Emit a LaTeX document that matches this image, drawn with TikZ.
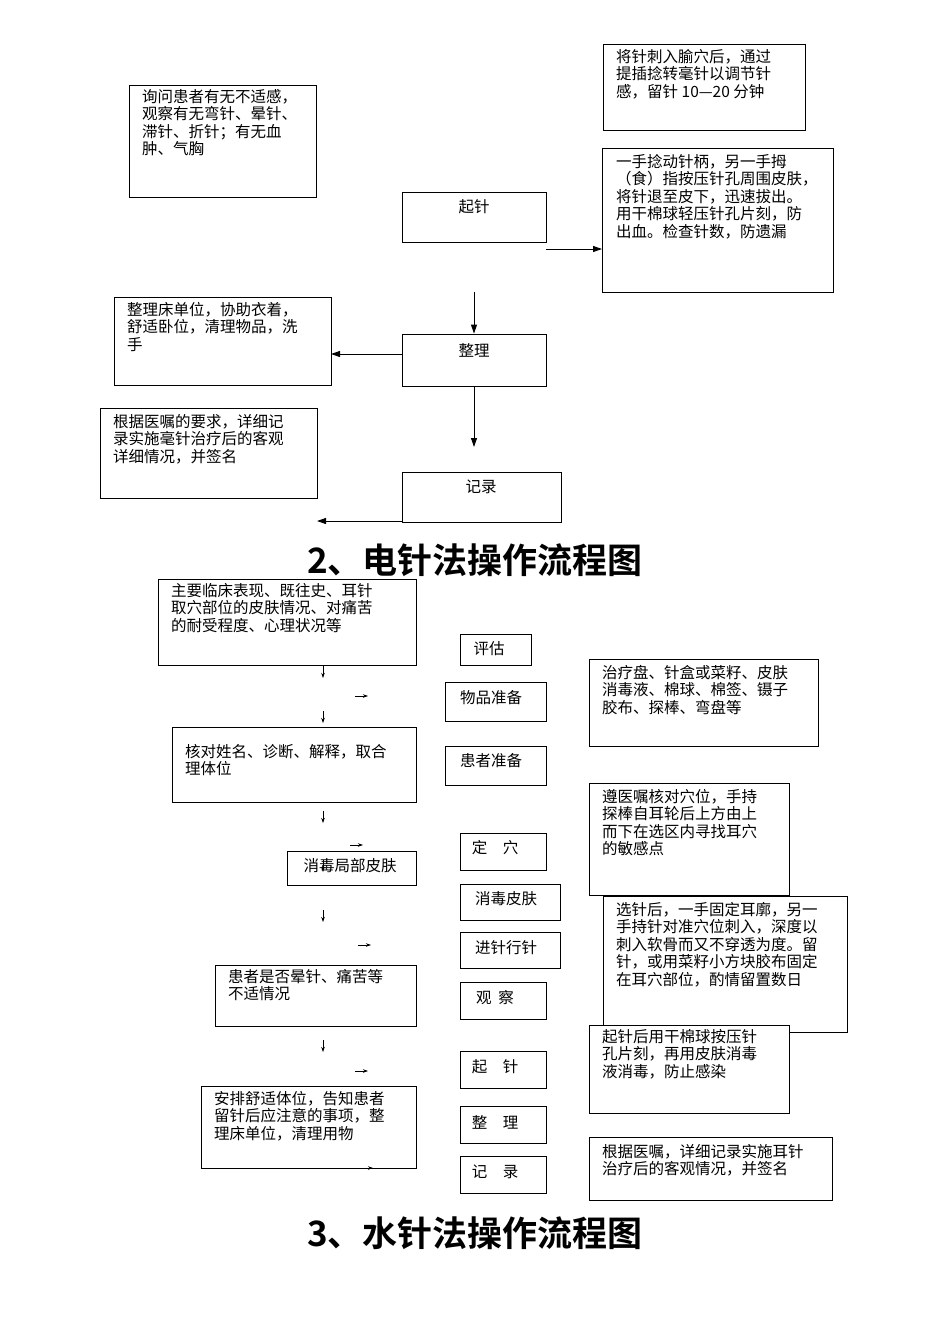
\documentclass[tikz,border=0pt]{standalone}
\usepackage{fontspec}
\setmainfont{Noto Sans CJK SC}
\newfontfamily\ttl{Noto Sans CJK SC Bold}
\usetikzlibrary{arrows.meta}
\begin{document}
\begin{tikzpicture}[x=1pt,y=-1pt,
  bx/.style={draw,line width=0.9pt},
  tx/.style={anchor=north west,inner sep=0pt,align=left,font=\fontsize{15.5}{17.5}\selectfont},
  lb/.style={inner sep=0pt,font=\fontsize{15.5}{17.5}\selectfont},
  ar/.style={line width=0.9pt,-{Triangle[length=9pt,width=6pt]}},
  sa/.style={line width=0.7pt,-{Stealth[length=5pt,width=3.5pt]}}]
\useasboundingbox (0,0) rectangle (950,1344);
% ---- top section
\draw[bx] (129,85) rectangle (316,197);
\node[tx] (ta) at (142,89) {询问患者有无不适感，\\观察有无弯针、晕针、\\滞针、折针；有无血\\肿、气胸};
\draw[bx] (603,44) rectangle (805,130);
\node[tx] (tb) at (616,49) {将针刺入腧穴后，通过\\提插捻转毫针以调节针\\感，留针 10—20 分钟};
\node[bx,minimum width=144,minimum height=50] (qz) at (474,217) {};
\node[lb] at (474,207) {起针};
\draw[bx] (602,148) rectangle (833,292);
\node[tx] at (616,154) {一手捻动针柄，另一手拇\\（食）指按压针孔周围皮肤，\\将针退至皮下，迅速拔出。\\用干棉球轻压针孔片刻，防\\出血。检查针数，防遗漏};
\coordinate (c1) at (546,249); \coordinate (c2) at (602,249);
\draw[ar] (c1) -- (c2);
\node[bx,minimum width=144,minimum height=52] (zl) at (474,360) {};
\node[lb] at (474,350) {整理};
\coordinate (c3) at (474,292);
\draw[ar] (c3) -- (zl.north);
\draw[bx] (114,297) rectangle (331,385);
\node[tx] at (127,302) {整理床单位，协助衣着，\\舒适卧位，清理物品，洗\\手};
\coordinate (c4) at (331,354); \coordinate (c4a) at (402,354);
\draw[ar] (c4a) -- (c4);
\coordinate (c5) at (474,447);
\draw[ar] (zl.south) -- (c5);
\draw[bx] (100,408) rectangle (317,498);
\node[tx] at (113,414) {根据医嘱的要求，详细记\\录实施毫针治疗后的客观\\详细情况，并签名};
\node[bx,minimum width=159,minimum height=50] (jl) at (481.5,497) {};
\node[lb] at (481,487) {记录};
\coordinate (c6) at (402,521); \coordinate (c7) at (317,521);
\draw[ar] (c6) -- (c7);
\node[font=\ttl\fontsize{35}{37}\selectfont] (t2) at (475,560) {2、电针法操作流程图};
% ---- lower section
\draw[bx] (158,579) rectangle (416,665);
\node[tx] at (171,583) {主要临床表现、既往史、耳针\\取穴部位的皮肤情况、对痛苦\\的耐受程度、心理状况等};
\draw[bx] (460,634) rectangle (531,665); \node[lb] at (489,649) {评估};
\draw[bx] (445,682) rectangle (546,721); \node[lb] at (491,698) {物品准备};
\draw[bx] (589,659) rectangle (818,746);
\node[tx] at (602,665) {治疗盘、针盒或菜籽、皮肤\\消毒液、棉球、棉签、镊子\\胶布、探棒、弯盘等};
\draw[bx] (172,727) rectangle (416,802);
\node[tx] at (185,744) {核对姓名、诊断、解释，取合\\理体位};
\draw[bx] (445,746) rectangle (546,785); \node[lb] at (491,761) {患者准备};
\draw[bx] (589,783) rectangle (789,895);
\node[tx] at (602,789) {遵医嘱核对穴位，手持\\探棒自耳轮后上方由上\\而下在选区内寻找耳穴\\的敏感点};
\draw[bx] (460,833) rectangle (546,870); \node[lb] at (495,848) {定\quad 穴};
\draw[bx] (287,851) rectangle (416,885); \node[lb] at (350,866) {消毒局部皮肤};
\draw[bx] (460,884) rectangle (560,920); \node[lb] at (506,899) {消毒皮肤};
\draw[bx,fill=white] (603,896) rectangle (847,1032);
\node[tx] at (616,902) {选针后，一手固定耳廓，另一\\手持针对准穴位刺入，深度以\\刺入软骨而又不穿透为度。留\\针，或用菜籽小方块胶布固定\\在耳穴部位，酌情留置数日};
\draw[bx] (460,932) rectangle (560,968); \node[lb] at (506,948) {进针行针};
\draw[bx] (215,965) rectangle (416,1026);
\node[tx] at (228,969) {患者是否晕针、痛苦等\\不适情况};
\draw[bx] (460,982) rectangle (546,1019); \node[lb] at (495,998) {观\ \ 察};
\draw[bx,fill=white] (589,1025) rectangle (789,1113);
\node[tx] at (602,1029) {起针后用干棉球按压针\\孔片刻，再用皮肤消毒\\液消毒，防止感染};
\draw[bx] (460,1051) rectangle (546,1088); \node[lb] at (495,1067) {起\quad 针};
\draw[bx] (201,1086) rectangle (416,1168);
\node[tx] at (214,1091) {安排舒适体位，告知患者\\留针后应注意的事项，整\\理床单位，清理用物};
\draw[bx] (460,1106) rectangle (546,1143); \node[lb] at (495,1122) {整\quad 理};
\draw[bx] (460,1156) rectangle (546,1193); \node[lb] at (495,1172) {记\quad 录};
\draw[bx] (589,1137) rectangle (832,1200);
\node[tx] at (602,1144) {根据医嘱，详细记录实施耳针\\治疗后的客观情况，并签名};
\node[font=\ttl\fontsize{35}{37}\selectfont] (t3) at (475,1233) {3、水针法操作流程图};
% small arrows
\foreach \y [count=\i] in {666,711,811,860,910,1040} {
  \coordinate (d\i a) at (323,\y); \coordinate (d\i b) at (323,\y+12);
  \draw[sa] (d\i a) -- (d\i b);}
\foreach \x/\y [count=\i] in {355/696,350/845,358/945,355/1071,360/1168} {
  \coordinate (r\i a) at (\x,\y); \coordinate (r\i b) at (\x+13,\y);
  \draw[sa] (r\i a) -- (r\i b);}
\end{tikzpicture}
\end{document}
